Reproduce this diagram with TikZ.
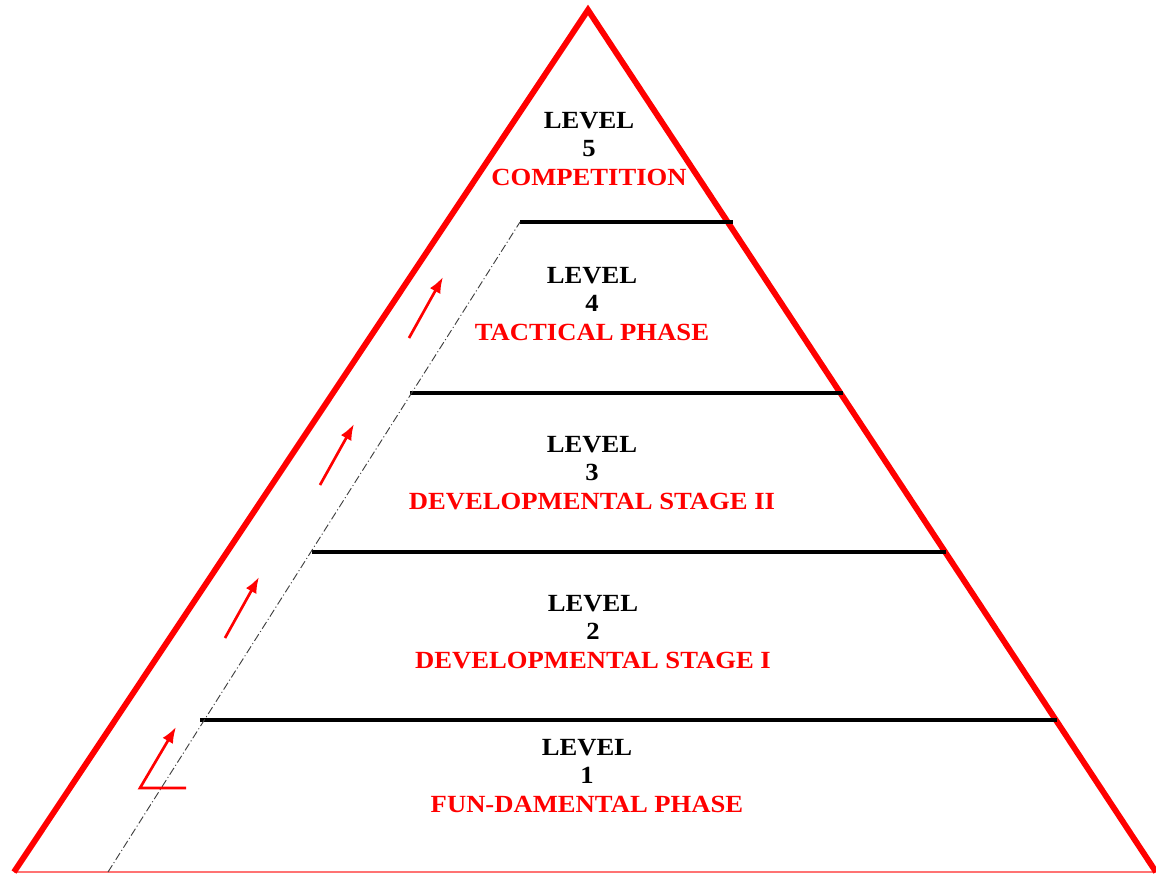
\documentclass[tikz,border=0pt]{standalone}
\usepackage{fontspec}
\usetikzlibrary{arrows.meta}
\newfontfamily\levelfont{Liberation Serif}[FakeStretch=1.08]

\begin{document}
\begin{tikzpicture}%
	[x={(0.75pt,0pt)},
	y={(0pt,-0.75pt)},
	pyramid/.style={color=red, line width=4.4pt, line join=miter},
	baseline/.style={color=red!55, line width=1.4pt},
	divider/.style={color=black, line width=2.8pt},
	trail/.style={color=black!75, line width=0.7pt, dash pattern=on 6pt off 2pt on 0.8pt off 2pt},
	climb/.style={color=red, line width=2pt, -{Latex[length=12pt,width=9pt]}},
	levelbox/.style={align=center, inner sep=0pt, font=\levelfont\bfseries\fontsize{18.5}{21.5}\selectfont},
	stagename/.style={color=red}]
	%
	\useasboundingbox (0,0) rectangle (1156,874);
	%%
	%% Corners of the pyramid
	%%
	\coordinate (apex) at (588,10);
	\coordinate (baseW) at (14,872);
	\coordinate (baseE) at (1156,872);
	%%
	%% Ends of the dividers
	%%
	\coordinate (d4W) at (520,222);
	\coordinate (d4E) at (733,222);
	\coordinate (d3W) at (410,393);
	\coordinate (d3E) at (843,393);
	\coordinate (d2W) at (312,552);
	\coordinate (d2E) at (946,552);
	\coordinate (d1W) at (200,720);
	\coordinate (d1E) at (1057,720);
	\coordinate (trailfoot) at (108,872);
	%%
	%% Drawing the pyramid
	%%
	\draw[baseline] (baseW) -- (baseE);
	\draw[pyramid] (baseW) -- (apex) -- (baseE);
	%%
	\draw[divider] (d4W) -- (d4E);
	\draw[divider] (d3W) -- (d3E);
	\draw[divider] (d2W) -- (d2E);
	\draw[divider] (d1W) -- (d1E);
	%%
	\draw[trail] (trailfoot) -- (d4W);
	%%
	%% Arrows up the side
	%%
	\coordinate (s1a) at (186,788);
	\coordinate (s1b) at (140,788);
	\coordinate (s1c) at (176,727);
	\draw[climb] (s1a) -- (s1b) -- (s1c);
	\draw[climb] (225,638) coordinate (s2a) -- (259,577) coordinate (s2b);
	\draw[climb] (320,485) coordinate (s3a) -- (354,424) coordinate (s3b);
	\draw[climb] (409,338) coordinate (s4a) -- (443,277) coordinate (s4b);
	%%
	%% Levels
	%%
	\node[levelbox] (level5) at (589,149) {LEVEL\\ 5\\ \textcolor{red}{COMPETITION}};
	\node[levelbox] (level4) at (592,304) {LEVEL\\ 4\\ \textcolor{red}{TACTICAL PHASE}};
	\node[levelbox] (level3) at (592,473) {LEVEL\\ 3\\ \textcolor{red}{DEVELOPMENTAL STAGE II}};
	\node[levelbox] (level2) at (593,632) {LEVEL\\ 2\\ \textcolor{red}{DEVELOPMENTAL STAGE I}};
	\node[levelbox] (level1) at (587,776) {LEVEL\\ 1\\ \textcolor{red}{FUN-DAMENTAL PHASE}};

\end{tikzpicture}
\end{document}
